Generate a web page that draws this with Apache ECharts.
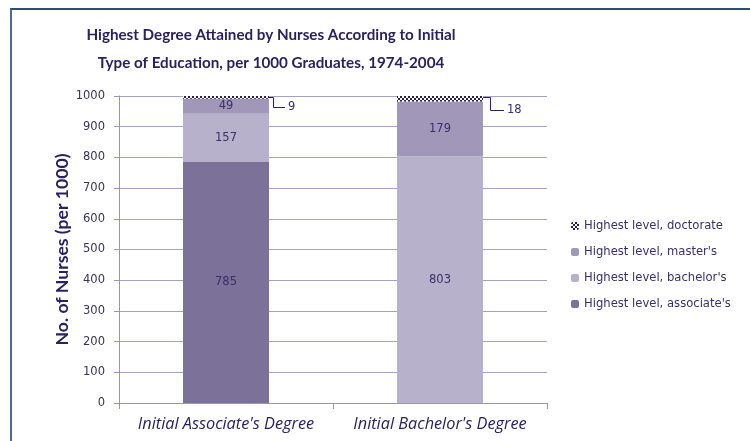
<!DOCTYPE html>
<html><head><meta charset="utf-8">
<script src="https://cdn.jsdelivr.net/npm/echarts@6/dist/echarts.min.js"></script>
<style>
html,body{margin:0;padding:0;background:#fff;overflow:hidden}
#c{position:absolute;left:0;top:0;width:750px;height:441px}
#frame{position:absolute;left:10px;top:8px;width:800px;height:500px;border-left:2px solid #4f6a88;border-top:2px solid #2f4d6e;pointer-events:none}
</style></head>
<body>
<div id="c"></div>
<div id="frame"></div>
<script>
const categories = ["Initial Associate's Degree", "Initial Bachelor's Degree"];
const associates = [785, 0];
const bachelors = [157, 803];
const masters = [49, 179];
const doctorates = [9, 18];
const yTicks = [0, 100, 200, 300, 400, 500, 600, 700, 800, 900, 1000];
const seriesNames = ["Highest level, associate's", "Highest level, bachelor's", "Highest level, master's", "Highest level, doctorate"];

const navy = '#2b2160';
const labelColor = '#3a2f6b';

// checkered pattern for the doctorate segment
const pc = document.createElement('canvas');
pc.width = 4; pc.height = 4;
const px = pc.getContext('2d');
px.fillStyle = '#ffffff'; px.fillRect(0,0,4,4);
px.fillStyle = '#2a2150';
px.fillRect(0,0,2,2); px.fillRect(2,2,2,2);

// leader-line glyph (decoration) for the small callout labels
function leader(h1, h2, drop) {
  const W = h1 + h2, H = 2 * drop + 2;
  const c = document.createElement('canvas');
  c.width = W; c.height = H;
  const g = c.getContext('2d');
  g.strokeStyle = '#2b2160'; g.lineWidth = 1;
  g.beginPath();
  g.moveTo(0, 1.5); g.lineTo(h1 + 0.5, 1.5);
  g.lineTo(h1 + 0.5, drop + 1.5);
  g.lineTo(W, drop + 1.5);
  g.stroke();
  return {W, H, c};
}
const calloutGeom = [{h1:4, h2:12, drop:10, dy:9.6}, {h1:7, h2:14, drop:13, dy:11.2}];
const doctorateData = doctorates.map((v, i) => {
  const g = calloutGeom[i];
  const L = leader(g.h1, g.h2, g.drop);
  return {value: v, label: {offset:[0, g.dy],
    rich: {l: {width: L.W, height: L.H, backgroundColor: {image: L.c}}}}};
});

const chart = echarts.init(document.getElementById('c'));
const inLabel = {show:true, position:'inside', color:labelColor, fontFamily:'DejaVu Sans', fontSize:11.5,
  formatter: p => p.value > 0 ? p.value : ''};
chart.setOption({
  animation:false,
  backgroundColor:'#fff',
  title:{text:'Highest Degree Attained by Nurses According to Initial\nType of Education, per 1000 Graduates, 1974-2004',
    left:266, top:16, textAlign:'center',
    textStyle:{fontFamily:'Lato', fontWeight:'bold', fontSize:15.2, color:navy, lineHeight:28}},
  legend:{orient:'vertical', left:571, top:220, padding:0, itemWidth:8, itemHeight:8, itemGap:14,
    data:[seriesNames[3], seriesNames[2], seriesNames[1], seriesNames[0]],
    textStyle:{fontFamily:'DejaVu Sans', fontSize:11.6, color:labelColor}},
  grid:{left:119, right:203, top:96, bottom:38, containLabel:false},
  xAxis:{type:'category', data:categories,
    axisLine:{lineStyle:{color:'#9c93bf', width:1}},
    axisTick:{show:true, length:6, lineStyle:{color:'#9c93bf'}},
    axisLabel:{interval:0, fontFamily:'Open Sans', fontStyle:'italic', fontSize:16.3, color:navy, margin:13}},
  yAxis:{type:'value', min:0, max:1000, interval:100,
    name:'No. of Nurses (per 1000)', nameLocation:'middle', nameGap:48, nameMoveOverlap:false,
    nameTextStyle:{fontFamily:'Lato', fontWeight:'bold', fontSize:17.6, color:navy},
    axisLine:{show:true, lineStyle:{color:'#9c93bf'}},
    axisTick:{show:true, length:5, lineStyle:{color:'#9c93bf'}},
    splitLine:{lineStyle:{color:'#a8a0c8', width:1}},
    axisLabel:{fontFamily:'DejaVu Sans', fontSize:11.5, color:'#3a3357', margin:14,
      formatter: v => yTicks.includes(v) ? String(v) : ''}},
  series:[
    {name:seriesNames[0], type:'bar', stack:'s', barWidth:86, data:associates,
      itemStyle:{color:'#7c7199'}, label:inLabel},
    {name:seriesNames[1], type:'bar', stack:'s', data:bachelors,
      itemStyle:{color:'#b7b1cb'}, label:inLabel},
    {name:seriesNames[2], type:'bar', stack:'s', data:masters,
      itemStyle:{color:'#a198b9'}, label:inLabel},
    {name:seriesNames[3], type:'bar', stack:'s', data:doctorateData,
      itemStyle:{color:{image:pc, repeat:'repeat'}},
      label:{show:true, position:'right', distance:0, formatter:'{l|}{v|{c}}',
        rich:{v:{color:labelColor, fontFamily:'DejaVu Sans', fontSize:11.5, padding:[0,0,0,3]}}}}
  ]
});
</script>
</body></html>
